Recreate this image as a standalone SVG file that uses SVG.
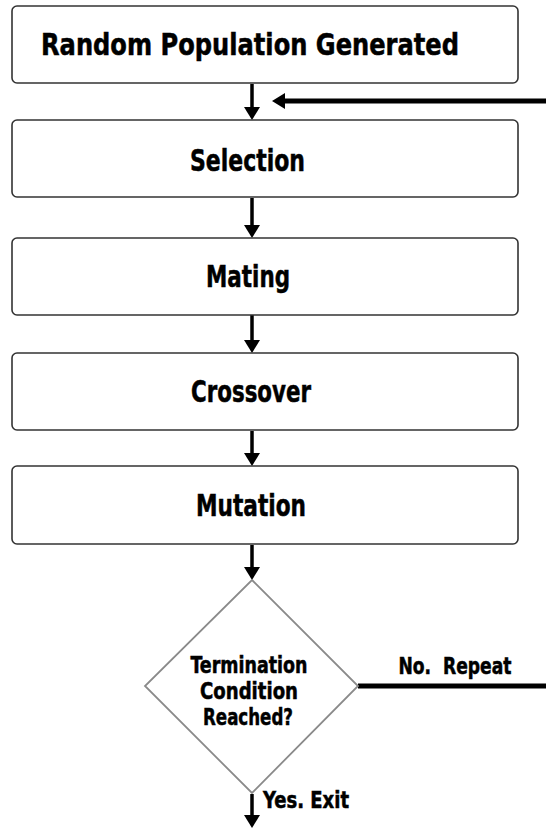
<svg xmlns="http://www.w3.org/2000/svg" width="546" height="828" viewBox="0 0 546 828">
  <defs>
    <style>
      .box { fill: #ffffff; stroke: #333333; stroke-width: 1.6; }
      .dia { fill: #ffffff; stroke: #8a8a8a; stroke-width: 1.8; }
      .lbl { font-family: "DejaVu Sans Condensed", "DejaVu Sans", sans-serif; font-stretch: condensed; font-weight: bold; fill: #000000; stroke: #000000; stroke-width: 0.5; text-anchor: middle; }
      .big { font-size: 31px; }
      .sm { font-size: 23px; }
      .shaft { stroke: #000000; stroke-width: 3.5; fill: none; }
      .thick { stroke: #000000; stroke-width: 5; fill: none; }
      .head { fill: #000000; }
    </style>
  </defs>
  <rect width="546" height="828" fill="#ffffff"/>

  <g id="connectors">
    <line class="shaft" x1="252" y1="84" x2="252" y2="110"/>
    <polygon class="head" points="244,107 260,107 252,120"/>
    <line class="thick" x1="282" y1="101" x2="546" y2="101"/>
    <polygon class="head" points="272,101 285,93 285,109"/>
    <line class="shaft" x1="252" y1="198" x2="252" y2="228"/>
    <polygon class="head" points="244,225 260,225 252,238"/>
    <line class="shaft" x1="252" y1="315" x2="252" y2="343"/>
    <polygon class="head" points="244,340 260,340 252,353"/>
    <line class="shaft" x1="252" y1="431" x2="252" y2="456"/>
    <polygon class="head" points="244,453 260,453 252,466"/>
    <line class="shaft" x1="252" y1="545" x2="252" y2="570"/>
    <polygon class="head" points="244,567 260,567 252,580"/>
    <line class="thick" x1="358" y1="686" x2="546" y2="686"/>
    <line class="shaft" x1="252" y1="794" x2="252" y2="818"/>
    <polygon class="head" points="244,815 260,815 252,828"/>
    <text class="lbl sm" x="455" y="674" textLength="113" lengthAdjust="spacingAndGlyphs" xml:space="preserve">No.  Repeat</text>
    <text class="lbl sm" x="306" y="808" textLength="86" lengthAdjust="spacingAndGlyphs">Yes. Exit</text>
  </g>

  <g id="random-population">
    <rect class="box" x="12" y="6" width="506" height="77" rx="5"/>
    <text class="lbl big" x="250" y="55" textLength="418" lengthAdjust="spacingAndGlyphs">Random Population Generated</text>
  </g>
  <g id="selection">
    <rect class="box" x="12" y="120" width="506" height="77" rx="5"/>
    <text class="lbl big" x="247.5" y="171" textLength="115" lengthAdjust="spacingAndGlyphs">Selection</text>
  </g>
  <g id="mating">
    <rect class="box" x="12" y="238" width="506" height="77" rx="5"/>
    <text class="lbl big" x="248" y="287" textLength="84" lengthAdjust="spacingAndGlyphs">Mating</text>
  </g>
  <g id="crossover">
    <rect class="box" x="12" y="353" width="506" height="77" rx="5"/>
    <text class="lbl big" x="251" y="402" textLength="120" lengthAdjust="spacingAndGlyphs">Crossover</text>
  </g>
  <g id="mutation">
    <rect class="box" x="12" y="466" width="506" height="78" rx="5"/>
    <text class="lbl big" x="251" y="516" textLength="110" lengthAdjust="spacingAndGlyphs">Mutation</text>
  </g>
  <g id="termination">
    <polygon class="dia" points="252,580 358,686 252,793 145,686"/>
    <text class="lbl sm" x="249" y="673" textLength="117" lengthAdjust="spacingAndGlyphs">Termination</text>
    <text class="lbl sm" x="249" y="699" textLength="98" lengthAdjust="spacingAndGlyphs">Condition</text>
    <text class="lbl sm" x="248" y="725" textLength="90" lengthAdjust="spacingAndGlyphs">Reached?</text>
  </g>
</svg>
